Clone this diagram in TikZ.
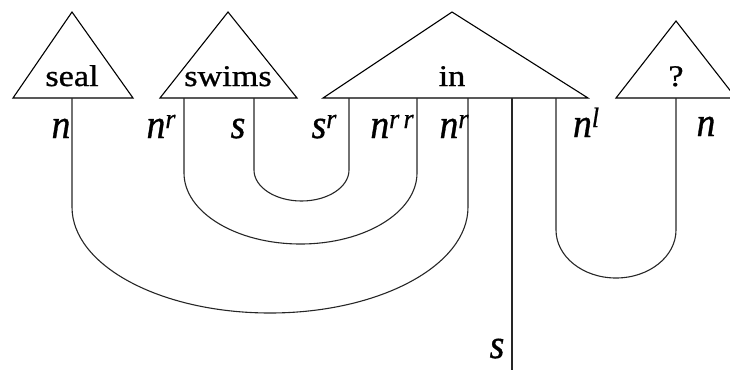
\documentclass[tikz,border=0pt]{standalone}
\usepackage{fontspec}
\setmainfont{Liberation Serif}
\newfontfamily\heavy{Liberation Serif}[FakeBold=0.8]
\newcommand{\wordtxt}[1]{\scalebox{1.14}[1]{\heavy\fontsize{30}{30}\selectfont #1}}
\newcommand{\lbl}[2]{\scalebox{0.92}[1]{\heavy\fontsize{41}{41}\selectfont\itshape #1\raisebox{10pt}{\fontsize{28}{28}\selectfont #2}}}
\tikzset{
  tri/.style={draw=black, line width=1.1pt, line join=miter},
  wire/.style={draw=black!85, line width=1.1pt},
  word/.style={inner sep=0pt, anchor=base},
  lab/.style={inner sep=0pt, anchor=base}
}
\begin{document}
\begin{tikzpicture}[x=1pt,y=1pt]
\useasboundingbox (0,0) rectangle (730,-370);
% triangles
\draw[tri] (13,-98) -- (72,-12) -- (133,-98) -- cycle;
\draw[tri] (160,-98) -- (228,-12) -- (297,-98) -- cycle;
\draw[tri] (323,-98) -- (452,-12) -- (588,-98) -- cycle;
\draw[tri] (616,-98) -- (676,-21) -- (736,-98) -- cycle;
\node[word] (seal) at (72,-86) {\wordtxt{seal}};
\node[word] (swims) at (228,-86) {\wordtxt{swims}};
\node[word] (in) at (452,-86) {\wordtxt{in}};
\node[word] (q) at (676,-86) {\wordtxt{?}};
% wire ends
\coordinate (a1) at (72,-98);
\coordinate (b1) at (184,-98);
\coordinate (b2) at (254,-98);
\coordinate (c1) at (349,-98);
\coordinate (c2) at (417,-98);
\coordinate (c3) at (468,-98);
\coordinate (c4) at (512,-98);
\coordinate (c5) at (556,-98);
\coordinate (d1) at (676,-98);
\coordinate (out) at (512,-370);
% cups
\draw[wire] (b2) -- (254,-170) arc[start angle=180,end angle=360,x radius=47.5pt,y radius=31pt] -- (c1);
\draw[wire] (b1) -- (184,-173) arc[start angle=180,end angle=360,x radius=116.5pt,y radius=71pt] -- (c2);
\draw[wire] (a1) -- (72,-207) arc[start angle=180,end angle=360,x radius=198pt,y radius=106pt] -- (c3);
\draw[wire] (c5) -- (556,-230) arc[start angle=180,end angle=360,x radius=60pt,y radius=48pt] -- (d1);
\draw[wire] (c4) -- (out);
% labels
\node[lab] (l1) at (61,-138) {\lbl{n}{}};
\node[lab] (l2) at (161,-138) {\lbl{n}{r}};
\node[lab] (l3) at (238,-138) {\lbl{s}{}};
\node[lab] (l4) at (324,-138) {\lbl{s}{r}};
\node[lab] (l5) at (392,-138) {\lbl{n}{r\,r}};
\node[lab] (l6) at (454,-138) {\lbl{n}{r}};
\node[lab] (l7) at (586,-137) {\lbl{n}{l}};
\node[lab] (l8) at (706,-136) {\lbl{n}{}};
\node[lab] (l9) at (497,-358) {\lbl{s}{}};
\end{tikzpicture}
\end{document}
